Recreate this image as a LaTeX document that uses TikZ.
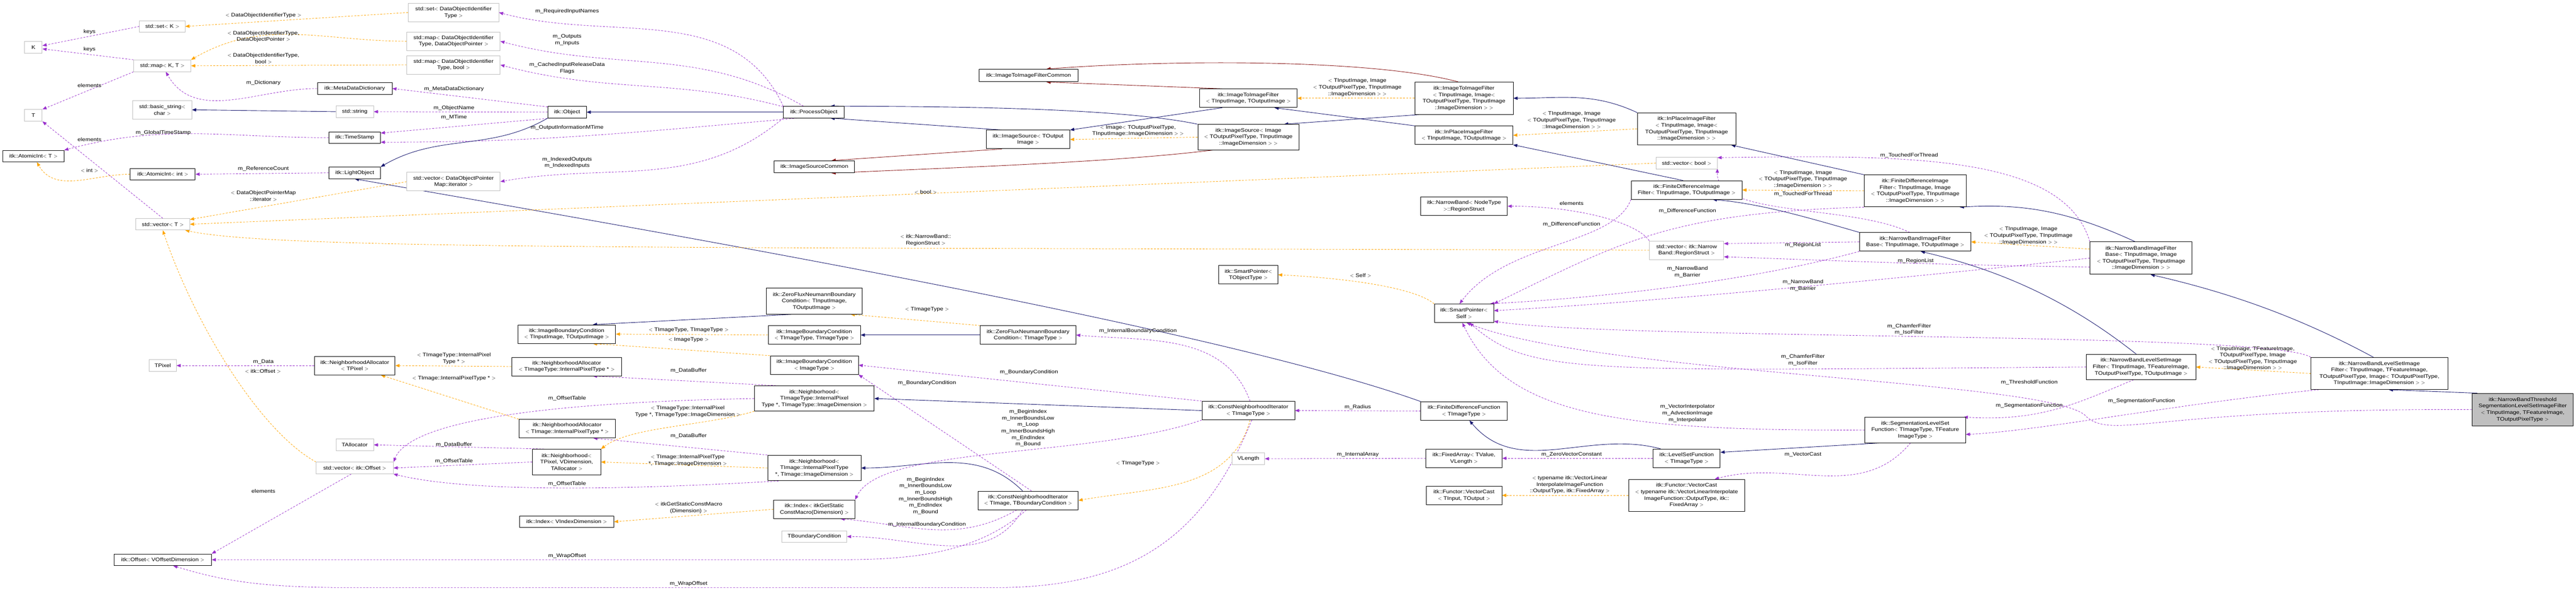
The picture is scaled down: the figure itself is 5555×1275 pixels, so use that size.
\documentclass[tikz,border=0pt]{standalone}
\usepackage{fontspec}
\setmainfont{Liberation Sans}[FakeStretch=1.15]
\usetikzlibrary{arrows.meta}
\pgfdeclarelayer{background}
\pgfsetlayers{background,main}
\definecolor{purp}{HTML}{9A32CD}
\definecolor{orng}{HTML}{FFA500}
\definecolor{navy}{HTML}{191970}
\definecolor{dred}{HTML}{8B1A1A}
\definecolor{gbox}{HTML}{BFBFBF}
\begin{document}
\begin{tikzpicture}[x=1pt,y=-1pt,
  every node/.style={font=\fontsize{11}{14}\selectfont, align=center, inner sep=1pt},
  cls/.style={draw=black, line width=1pt, fill=white},
  und/.style={draw=gbox, line width=1pt, fill=white},
  cur/.style={draw=black, line width=1pt, fill=gbox},
  lab/.style={inner sep=0pt},
  tip/.style={-{Triangle[length=9pt,width=7pt]}},
  use/.style={draw=purp, line width=0.9pt, dash pattern=on 4pt off 3pt, tip},
  tpl/.style={draw=orng, line width=0.9pt, dash pattern=on 4pt off 3pt, tip},
  inh/.style={draw=navy, line width=1pt, tip},
  inr/.style={draw=dred, line width=1pt, tip}]
\useasboundingbox (0,0) rectangle (5555,1275);
\newcommand{\cn}[7]{\node[#1, minimum width=#5pt, minimum height=#6pt] (#2) at (#3,#4) {#7};}
% ---------- nodes ----------
\cn{und}{setDOIT}{978}{27}{195}{40}{std::set$<$ DataObjectIdentifier\\Type $>$}
\cn{und}{setK}{350}{57}{98}{25}{std::set$<$ K $>$}
\cn{und}{K}{72}{102}{38}{25}{K}
\cn{und}{mapDOP}{978}{89}{201}{40}{std::map$<$ DataObjectIdentifier\\Type, DataObjectPointer $>$}
\cn{und}{mapKT}{350}{142}{123}{25}{std::map$<$ K, T $>$}
\cn{und}{mapBool}{978}{140}{201}{40}{std::map$<$ DataObjectIdentifier\\Type, bool $>$}
\cn{cls}{MDD}{765}{191}{161}{25}{itk::MetaDataDictionary}
\cn{und}{T}{72}{249}{38}{25}{T}
\cn{und}{bstr}{350}{237}{127}{40}{std::basic\_string$<$\\char $>$}
\cn{und}{str}{765}{241}{81}{25}{std::string}
\cn{cls}{Obj}{1223}{242}{83}{25}{itk::Object}
\cn{cls}{TS}{765}{297}{111}{25}{itk::TimeStamp}
\cn{cls}{AIT}{72}{337}{132}{25}{itk::AtomicInt$<$ T $>$}
\cn{cls}{AIint}{351}{376}{140}{25}{itk::AtomicInt$<$ int $>$}
\cn{cls}{LO}{765}{373}{111}{25}{itk::LightObject}
\cn{und}{vecDOPM}{978}{392}{201}{40}{std::vector$<$ DataObjectPointer\\Map::iterator $>$}
\cn{und}{vecT}{351}{484}{116}{25}{std::vector$<$ T $>$}
\cn{cls}{IBCio}{1222}{721}{211}{40}{itk::ImageBoundaryCondition\\$<$ TInputImage, TOutputImage $>$}
\cn{und}{TPixel}{351}{789}{58}{25}{TPixel}
\cn{cls}{NAP}{765}{789}{174}{40}{itk::NeighborhoodAllocator\\$<$ TPixel $>$}
\cn{cls}{NATT}{1222}{791}{237}{40}{itk::NeighborhoodAllocator\\$<$ TImageType::InternalPixelType * $>$}
\cn{cls}{NATI}{1223}{925}{208}{40}{itk::NeighborhoodAllocator\\$<$ TImage::InternalPixelType * $>$}
\cn{und}{TAlloc}{765}{960}{81}{25}{TAllocator}
\cn{cls}{NbP}{1222}{997}{147}{55}{itk::Neighborhood$<$\\TPixel, VDimension,\\TAllocator $>$}
\cn{und}{vecOff}{765}{1010}{166}{25}{std::vector$<$ itk::Offset $>$}
\cn{cls}{IdxV}{1222}{1126}{203}{25}{itk::Index$<$ VIndexDimension $>$}
\cn{cls}{Off}{351}{1208}{210}{25}{itk::Offset$<$ VOffsetDimension $>$}
\cn{cls}{PO}{1755}{242}{131}{25}{itk::ProcessObject}
\cn{cls}{ITIFC}{2218}{163}{213}{27}{itk::ImageToImageFilterCommon}
\cn{cls}{ITIFio}{2692}{212}{210}{40}{itk::ImageToImageFilter\\$<$ TInputImage, TOutputImage $>$}
\cn{cls}{ISo}{2217}{301}{180}{40}{itk::ImageSource$<$ TOutput\\Image $>$}
\cn{cls}{ISimg}{2692}{296}{218}{55}{itk::ImageSource$<$ Image\\$<$ TOutputPixelType, TInputImage\\::ImageDimension $>$ $>$}
\cn{cls}{ISC}{1756}{360}{174}{26}{itk::ImageSourceCommon}
\cn{cls}{SPT}{2692}{593}{127}{40}{itk::SmartPointer$<$\\TObjectType $>$}
\cn{cls}{ZFio}{1756}{650}{207}{56}{itk::ZeroFluxNeumannBoundary\\Condition$<$ TInputImage,\\TOutputImage $>$}
\cn{cls}{IBCtt}{1756}{723}{199}{40}{itk::ImageBoundaryCondition\\$<$ TImageType, TImageType $>$}
\cn{cls}{ZFt}{2217}{723}{206}{40}{itk::ZeroFluxNeumannBoundary\\Condition$<$ TImageType $>$}
\cn{cls}{IBCi}{1756}{788}{190}{40}{itk::ImageBoundaryCondition\\$<$ ImageType $>$}
\cn{cls}{NbTT}{1756}{860}{258}{54}{itk::Neighborhood$<$\\TImageType::InternalPixel\\Type *, TImageType::ImageDimension $>$}
\cn{cls}{CNIt}{2692}{886}{200}{40}{itk::ConstNeighborhoodIterator\\$<$ TImageType $>$}
\cn{cls}{NbTI}{1756}{1010}{201}{55}{itk::Neighborhood$<$\\TImage::InternalPixelType\\*, TImage::ImageDimension $>$}
\cn{cls}{CNIib}{2217}{1080}{216}{40}{itk::ConstNeighborhoodIterator\\$<$ TImage, TBoundaryCondition $>$}
\cn{cls}{IdxG}{1756}{1099}{175}{40}{itk::Index$<$ itkGetStatic\\ConstMacro(Dimension) $>$}
\cn{und}{TBC}{1756}{1158}{140}{25}{TBoundaryCondition}
\cn{und}{VLen}{2692}{990}{70}{25}{VLength}
\cn{cls}{ITIFimg}{3157}{212}{212}{70}{itk::ImageToImageFilter\\$<$ TInputImage, Image$<$\\TOutputPixelType, TInputImage\\::ImageDimension $>$ $>$}
\cn{cls}{IPio}{3157}{292}{211}{40}{itk::InPlaceImageFilter\\$<$ TInputImage, TOutputImage $>$}
\cn{cls}{IPimg}{3637}{278}{212}{69}{itk::InPlaceImageFilter\\$<$ TInputImage, Image$<$\\TOutputPixelType, TInputImage\\::ImageDimension $>$ $>$}
\cn{und}{vecBool}{3637}{352}{132}{25}{std::vector$<$ bool $>$}
\cn{cls}{FDio}{3637}{410}{239}{40}{itk::FiniteDifferenceImage\\Filter$<$ TInputImage, TOutputImage $>$}
\cn{cls}{FDimg}{4130}{412}{220}{69}{itk::FiniteDifferenceImage\\Filter$<$ TInputImage, Image\\$<$ TOutputPixelType, TInputImage\\::ImageDimension $>$ $>$}
\cn{cls}{NBRS}{3157}{445}{187}{40}{itk::NarrowBand$<$ NodeType\\$>$::RegionStruct}
\cn{und}{vecNB}{3637}{540}{160}{40}{std::vector$<$ itk::Narrow\\Band::RegionStruct $>$}
\cn{cls}{NBio}{4130}{522}{240}{40}{itk::NarrowBandImageFilter\\Base$<$ TInputImage, TOutputImage $>$}
\cn{cls}{NBimg}{4617}{557}{220}{70}{itk::NarrowBandImageFilter\\Base$<$ TInputImage, Image\\$<$ TOutputPixelType, TInputImage\\::ImageDimension $>$ $>$}
\cn{cls}{SPS}{3157}{676}{128}{40}{itk::SmartPointer$<$\\Self $>$}
\cn{cls}{FDF}{3157}{887}{186}{40}{itk::FiniteDifferenceFunction\\$<$ TImageType $>$}
\cn{cls}{FA}{3157}{989}{164}{40}{itk::FixedArray$<$ TValue,\\VLength $>$}
\cn{cls}{LSF}{3637}{989}{145}{40}{itk::LevelSetFunction\\$<$ TImageType $>$}
\cn{cls}{VCio}{3157}{1069}{163}{40}{itk::Functor::VectorCast\\$<$ TInput, TOutput $>$}
\cn{cls}{VCt}{3637}{1069}{250}{69}{itk::Functor::VectorCast\\$<$ typename itk::VectorLinearInterpolate\\ImageFunction::OutputType, itk::\\FixedArray $>$}
\cn{cls}{SLSF}{4130}{928}{217}{55}{itk::SegmentationLevelSet\\Function$<$ TImageType, TFeature\\ImageType $>$}
\cn{cls}{NBLio}{4617}{792}{236}{54}{itk::NarrowBandLevelSetImage\\Filter$<$ TInputImage, TFeatureImage,\\TOutputPixelType, TOutputImage $>$}
\cn{cls}{NBLimg}{5131}{806}{295}{69}{itk::NarrowBandLevelSetImage\\Filter$<$ TInputImage, TFeatureImage,\\TOutputPixelType, Image$<$ TOutputPixelType,\\TInputImage::ImageDimension $>$ $>$}
\cn{cur}{NBT}{5440}{884}{218}{70}{itk::NarrowBandThreshold\\SegmentationLevelSetImageFilter\\$<$ TInputImage, TFeatureImage,\\TOutputPixelType $>$}
% ---------- edges ----------
\begin{pgfonlayer}{background}
\draw[use] (PO.north west) to[out=115,in=-15] (setDOIT.east);
\draw[use] (PO.150) to[out=150,in=-15] (mapDOP.east);
\draw[use] (PO.170) to[out=165,in=-15] (mapBool.east);
\draw[use] (Obj.165) -- (MDD.east);
\draw[use] (Obj.west) -- (str.east);
\draw[use] (Obj.200) -- (TS.10);
\draw[use] (PO.200) to[out=185,in=0] (TS.-10);
\draw[use] (PO.south west) to[out=-140,in=10] (vecDOPM.east);
\draw[inh] (PO.west) -- (Obj.east);
\draw[inh] (Obj.south west) to[out=-150,in=30] (LO.north east);
\draw[inh] (FDF.north west) .. controls (2600,700) and (1300,480) .. (LO.south);
\draw[tpl] (setDOIT.west) -- (setK.east);
\draw[tpl] (mapDOP.west) to[out=180,in=30] (mapKT.north east);
\draw[tpl] (mapBool.west) -- (mapKT.east);
\draw[use] (setK.west) -- (K.10);
\draw[use] (mapKT.north west) -- (K.-10);
\draw[use] (mapKT.south west) -- (T.north east);
\draw[use] (MDD.west) to[out=180,in=-60] (mapKT.-60);
\draw[inh] (str.west) -- (bstr.east);
\draw[use] (LO.west) -- (AIint.east);
\draw[tpl] (AIint.west) to[out=180,in=-60] (AIT.-60);
\draw[use] (TS.west) to[out=180,in=15] (AIT.north east);
\draw[use] (vecT.north) -- (T.south east);
\draw[tpl] (vecDOPM.west) -- (vecT.10);
\draw[tpl] (vecBool.west) -- (vecT.east);
\draw[tpl] (vecNB.west) .. controls (1500,533) and (600,540) .. (vecT.-15);
\draw[tpl] (vecOff.north west) .. controls (560,930) and (420,700) .. (vecT.south);
\draw[use] (vecOff.-120) -- (Off.north east);
\draw[use] (NAP.west) -- (TPixel.east);
\draw[tpl] (NATT.west) -- (NAP.east);
\draw[tpl] (NATI.north west) -- (NAP.-20);
\draw[use] (NbP.150) -- (TAlloc.east);
\draw[use] (NbP.west) -- (vecOff.east);
\draw[use] (NbTT.west) .. controls (1100,870) and (880,920) .. (vecOff.north east);
\draw[use] (NbTI.-160) .. controls (1300,1060) and (1000,1060) .. (vecOff.south east);
\draw[use] (NbTT.160) -- (NATT.-20);
\draw[use] (NbTI.north west) -- (NATI.-20);
\draw[tpl] (NbTT.south west) .. controls (1520,920) and (1360,920) .. (NbP.north east);
\draw[tpl] (NbTI.west) -- (NbP.east);
\draw[tpl] (IBCtt.west) -- (IBCio.east);
\draw[tpl] (IBCi.north west) -- (IBCio.-20);
\draw[inh] (ZFio.-150) -- (IBCio.20);
\draw[inh] (ZFt.west) -- (IBCtt.east);
\draw[tpl] (ZFt.north west) -- (ZFio.-20);
\draw[use] (CNIt.80) to[out=110,in=-5] (ZFt.east);
\draw[use] (CNIt.north west) -- (IBCi.east);
\draw[use] (CNIib.70) -- (IBCi.south east);
\draw[inh] (CNIt.west) -- (NbTT.east);
\draw[inh] (CNIib.120) to[out=135,in=0] (NbTI.east);
\draw[use] (CNIt.south west) .. controls (2350,990) and (1900,960) .. (IdxG.north east);
\draw[use] (CNIib.-140) to[out=-150,in=-5] (IdxG.-20);
\draw[use] (CNIib.-120) to[out=-120,in=0] (TBC.east);
\draw[tpl] (CNIt.-80) to[out=-105,in=10] (CNIib.east);
\draw[use] (CNIt.-70) .. controls (2600,1150) and (2450,1268) .. (2150,1268) -- (750,1268) .. controls (550,1268) and (470,1250) .. (Off.-30);
\draw[use] (CNIib.-100) .. controls (2100,1200) and (1950,1208) .. (1800,1208) -- (Off.east);
\draw[tpl] (IdxG.west) -- (IdxV.east);
\draw[use] (FDF.west) -- (CNIt.east);
\draw[use] (FA.west) -- (VLen.east);
\draw[use] (LSF.west) -- (FA.east);
\draw[inh] (LSF.160) to[out=165,in=-50] (FDF.-60);
\draw[inh] (SLSF.-160) -- (LSF.10);
\draw[use] (SLSF.-110) to[out=-130,in=15] (VCt.30);
\draw[tpl] (VCt.west) -- (VCio.east);
\draw[use] (SLSF.west) .. controls (3500,930) and (3250,900) .. (SPS.-100);
\draw[use] (FDio.south west) .. controls (3480,530) and (3250,520) .. (SPS.115);
\draw[use] (FDimg.south west) .. controls (3600,460) and (3500,520) .. (SPS.north east);
\draw[use] (NBio.south west) .. controls (3800,600) and (3500,640) .. (SPS.20);
\draw[use] (NBimg.west) .. controls (4200,590) and (3600,650) .. (SPS.5);
\draw[use] (NBLimg.north west) .. controls (4900,715) and (3500,735) .. (SPS.-15);
\draw[use] (NBLio.west) .. controls (3400,800) and (3300,810) .. (SPS.-60);
\draw[use] (NBT.west) .. controls (4650,880) and (4560,950) .. (4500,900) .. controls (4440,820) and (3450,810) .. (SPS.-75);
\draw[tpl] (SPS.north west) .. controls (3050,620) and (2900,600) .. (SPT.east);
\draw[use] (NBio.west) -- (vecNB.10);
\draw[use] (NBimg.-170) .. controls (4100,570) and (3900,560) .. (vecNB.-10);
\draw[use] (vecNB.north west) .. controls (3530,480) and (3400,445) .. (NBRS.east);
\draw[use] (NBio.120) .. controls (3990,440) and (3700,470) .. (vecBool.-10);
\draw[use] (NBimg.north west) .. controls (4450,330) and (4100,335) .. (vecBool.10);
\draw[inh] (FDio.110) -- (IPio.south east);
\draw[inh] (FDimg.north west) -- (IPimg.-20);
\draw[tpl] (FDimg.west) -- (FDio.east);
\draw[tpl] (IPimg.west) -- (IPio.east);
\draw[inh] (IPio.north west) -- (ITIFio.-20);
\draw[inh] (IPimg.north west) to[out=155,in=0] (ITIFimg.east);
\draw[tpl] (ITIFimg.west) -- (ITIFio.east);
\draw[inh] (ITIFio.-160) -- (ISo.north east);
\draw[inh] (ITIFimg.-160) -- (ISimg.20);
\draw[tpl] (ISimg.west) -- (ISo.east);
\draw[inh] (ISo.160) -- (PO.-20);
\draw[inh] (ISimg.north west) .. controls (2400,230) and (2000,230) .. (PO.20);
\draw[inr] (ITIFio.160) -- (ITIFC.-20);
\draw[inr] (ITIFimg.110) .. controls (2950,125) and (2500,130) .. (ITIFC.20);
\draw[inr] (ISo.-160) -- (ISC.20);
\draw[inr] (ISimg.-160) .. controls (2400,350) and (2100,360) .. (ISC.-20);
\draw[inh] (NBio.north west) .. controls (3900,470) and (3800,440) .. (FDio.-20);
\draw[inh] (NBimg.110) .. controls (4450,450) and (4350,440) .. (FDimg.-20);
\draw[tpl] (NBimg.170) -- (NBio.east);
\draw[inh] (NBLio.110) .. controls (4450,640) and (4300,580) .. (NBio.-60);
\draw[inh] (NBLimg.110) .. controls (4950,680) and (4800,630) .. (NBimg.-60);
\draw[tpl] (NBLimg.west) -- (NBLio.east);
\draw[inh] (NBT.160) -- (NBLimg.-60);
\draw[use] (NBLio.-120) .. controls (4480,870) and (4400,910) .. (SLSF.15);
\draw[use] (NBLimg.-165) .. controls (4700,870) and (4400,930) .. (SLSF.-5);
\end{pgfonlayer}
% ---------- labels ----------
\node[lab] (a1) at (568,33) {$<$ DataObjectIdentifierType $>$};
\node[lab] (a2) at (193,69) {keys};
\node[lab] (a3) at (193,107) {keys};
\node[lab] (a4) at (568,79) {$<$ DataObjectIdentifierType,\\DataObjectPointer $>$};
\node[lab] (a5) at (568,126) {$<$ DataObjectIdentifierType,\\bool $>$};
\node[lab] (a6) at (193,184) {elements};
\node[lab] (a7) at (568,179) {m\_Dictionary};
\node[lab] (a8) at (1223,24) {m\_RequiredInputNames};
\node[lab] (a9) at (1223,86) {m\_Outputs\\m\_Inputs};
\node[lab] (a10) at (1223,147) {m\_CachedInputReleaseData\\Flags};
\node[lab] (a11) at (979,192) {m\_MetaDataDictionary};
\node[lab] (a12) at (979,233) {m\_ObjectName};
\node[lab] (a13) at (979,253) {m\_MTime};
\node[lab] (a14) at (1223,275) {m\_OutputInformationMTime};
\node[lab] (a15) at (352,287) {m\_GlobalTimeStamp};
\node[lab] (a16) at (193,301) {elements};
\node[lab] (a17) at (193,368) {$<$ int $>$};
\node[lab] (a18) at (568,364) {m\_ReferenceCount};
\node[lab] (a19) at (1223,351) {m\_IndexedOutputs\\m\_IndexedInputs};
\node[lab] (a20) at (568,423) {$<$ DataObjectPointerMap\\::iterator $>$};
\node[lab] (b1) at (568,781) {m\_Data};
\node[lab] (b2) at (567,801) {$<$ itk::Offset $>$};
\node[lab] (b3) at (979,774) {$<$ TImageType::InternalPixel\\Type * $>$};
\node[lab] (b4) at (979,817) {$<$ TImage::InternalPixelType * $>$};
\node[lab] (b5) at (1223,860) {m\_OffsetTable};
\node[lab] (b6) at (979,960) {m\_DataBuffer};
\node[lab] (b7) at (979,995) {m\_OffsetTable};
\node[lab] (b8) at (1223,1044) {m\_OffsetTable};
\node[lab] (b9) at (568,1060) {elements};
\node[lab] (b10) at (1223,1200) {m\_WrapOffset};
\node[lab] (c1) at (2454,282) {$<$ Image$<$ TOutputPixelType,\\TInputImage::ImageDimension $>$ $>$};
\node[lab] (c2) at (1996,415) {$<$ bool $>$};
\node[lab] (c3) at (1996,518) {$<$ itk::NarrowBand::\\RegionStruct $>$};
\node[lab] (d1) at (1999,668) {$<$ TImageType $>$};
\node[lab] (d2) at (2454,714) {m\_InternalBoundaryCondition};
\node[lab] (d3) at (1485,712) {$<$ TImageType, TImageType $>$};
\node[lab] (d4) at (1485,733) {$<$ ImageType $>$};
\node[lab] (d5) at (1485,800) {m\_DataBuffer};
\node[lab] (d6) at (2219,803) {m\_BoundaryCondition};
\node[lab] (d7) at (1999,827) {m\_BoundaryCondition};
\node[lab] (d8) at (1483,888) {$<$ TImageType::InternalPixel\\Type *, TImageType::ImageDimension $>$};
\node[lab] (d9) at (1485,941) {m\_DataBuffer};
\node[lab] (d10) at (1483,994) {$<$ TImage::InternalPixelType\\*, TImage::ImageDimension $>$};
\node[lab] (d11) at (2217,924) {m\_BeginIndex\\m\_InnerBoundsLow\\m\_Loop\\m\_InnerBoundsHigh\\m\_EndIndex\\m\_Bound};
\node[lab] (d12) at (2454,1000) {$<$ TImageType $>$};
\node[lab] (d13) at (1996,1070) {m\_BeginIndex\\m\_InnerBoundsLow\\m\_Loop\\m\_InnerBoundsHigh\\m\_EndIndex\\m\_Bound};
\node[lab] (d14) at (1485,1096) {$<$ itkGetStaticConstMacro\\(Dimension) $>$};
\node[lab] (d15) at (1999,1132) {m\_InternalBoundaryCondition};
\node[lab] (d16) at (1485,1260) {m\_WrapOffset};
\node[lab] (e1) at (2927,189) {$<$ TInputImage, Image\\$<$ TOutputPixelType, TInputImage\\::ImageDimension $>$ $>$};
\node[lab] (e2) at (3389,260) {$<$ TInputImage, Image\\$<$ TOutputPixelType, TInputImage\\::ImageDimension $>$ $>$};
\node[lab] (e3) at (4117,335) {m\_TouchedForThread};
\node[lab] (e4) at (3888,387) {$<$ TInputImage, Image\\$<$ TOutputPixelType, TInputImage\\::ImageDimension $>$ $>$};
\node[lab] (e5) at (3888,419) {m\_TouchedForThread};
\node[lab] (e6) at (3389,439) {elements};
\node[lab] (e7) at (3639,455) {m\_DifferenceFunction};
\node[lab] (e8) at (3389,484) {m\_DifferenceFunction};
\node[lab] (e9) at (3888,529) {m\_RegionList};
\node[lab] (e10) at (4131,563) {m\_RegionList};
\node[lab] (e11) at (3639,587) {m\_NarrowBand\\m\_Barrier};
\node[lab] (e12) at (3888,616) {m\_NarrowBand\\m\_Barrier};
\node[lab] (e13) at (2934,595) {$<$ Self $>$};
\node[lab] (f1) at (4117,711) {m\_ChamferFilter\\m\_IsoFilter};
\node[lab] (f2) at (3888,777) {m\_ChamferFilter\\m\_IsoFilter};
\node[lab] (f3) at (2928,879) {m\_Radius};
\node[lab] (f4) at (3639,892) {m\_VectorInterpolator\\m\_AdvectionImage\\m\_Interpolator};
\node[lab] (f5) at (2928,981) {m\_InternalArray};
\node[lab] (f6) at (3389,981) {m\_ZeroVectorConstant};
\node[lab] (f7) at (3888,981) {m\_VectorCast};
\node[lab] (f8) at (3385,1046) {$<$ typename itk::VectorLinear\\InterpolateImageFunction\\::OutputType, itk::FixedArray $>$};
\node[lab] (g1) at (4374,509) {$<$ TInputImage, Image\\$<$ TOutputPixelType, TInputImage\\::ImageDimension $>$ $>$};
\node[lab] (g2) at (4376,825) {m\_ThresholdFunction};
\node[lab] (g3) at (4376,875) {m\_SegmentationFunction};
\node[lab] (g4) at (4618,865) {m\_SegmentationFunction};
\node[lab] (g5) at (4858,774) {$<$ TInputImage, TFeatureImage,\\TOutputPixelType, Image\\$<$ TOutputPixelType, TInputImage\\::ImageDimension $>$ $>$};
\end{tikzpicture}
\end{document}
